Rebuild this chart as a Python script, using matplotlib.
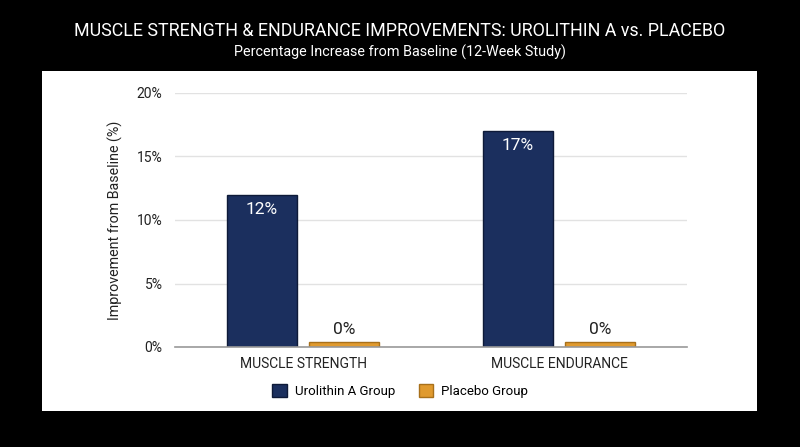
import matplotlib.pyplot as plt
import matplotlib.patches as mpatches
import numpy as np

plt.rcParams['font.family'] = ['Roboto', 'DejaVu Sans']

# data
categories = ["MUSCLE STRENGTH", "MUSCLE ENDURANCE"]
urolithin = [12, 17]
placebo = [0.4, 0.4]
series_names = ["Urolithin A Group", "Placebo Group"]
yticks = [0, 5, 10, 15, 20]

blue = "#1b2f5e"
blue_edge = "#0e1a38"
orange = "#e09a2e"
orange_edge = "#a8701a"

fig = plt.figure(figsize=(8, 4.47), dpi=100)
fig.patch.set_facecolor("black")

# white card behind the chart
card = mpatches.Rectangle((42 / 800, 1 - 411 / 447), (757 - 42) / 800, (411 - 71) / 447,
                          transform=fig.transFigure, facecolor="white", edgecolor="none", zorder=-10)
fig.patches.append(card)

fig.text(0.5, 1 - 31 / 447, "MUSCLE STRENGTH & ENDURANCE IMPROVEMENTS: UROLITHIN A vs. PLACEBO",
         ha="center", va="center", color="white", fontsize=12.9)
fig.text(0.5, 1 - 52 / 447, "Percentage Increase from Baseline (12-Week Study)",
         ha="center", va="center", color="white", fontsize=10.4)

ax = fig.add_axes([175 / 800, 1 - 347 / 447, (687 - 175) / 800, (347 - 93) / 447])
ax.set_facecolor("none")
ax.set_zorder(2)

x = np.arange(len(categories))
w = 0.27
off = 0.16
b1 = ax.bar(x - off, urolithin, w, color=blue, edgecolor=blue_edge, linewidth=1, zorder=3,
            label=series_names[0])
b2 = ax.bar(x + off, placebo, w, color=orange, edgecolor=orange_edge, linewidth=1, zorder=3,
            label=series_names[1])

for rect, v in zip(b1, urolithin):
    ax.text(rect.get_x() + rect.get_width() / 2, v - 0.55, f"{v:.0f}%", ha="center", va="top",
            color="white", fontsize=12.5, zorder=4)
for rect, v in zip(b2, placebo):
    ax.text(rect.get_x() + rect.get_width() / 2, v + 0.35, f"{v:.0f}%", ha="center", va="bottom",
            color="#222222", fontsize=12.5, zorder=4)

ax.set_xlim(-0.5, 1.5)
ax.set_ylim(0, 20)
ax.set_yticks(yticks)
ax.set_yticklabels([f"{t}%" for t in yticks])
ax.set_xticks(x)
ax.set_xticklabels(categories)
ax.tick_params(axis="both", length=0, labelsize=10, colors="#222222")
ax.tick_params(axis="y", pad=9)
ax.tick_params(axis="x", pad=7)
ax.grid(axis="y", color="#e2e2e2", linewidth=1, zorder=0)
for s in ["top", "right", "left"]:
    ax.spines[s].set_visible(False)
ax.spines["bottom"].set_color("#999999")
ax.spines["bottom"].set_linewidth(1.2)
ax.spines["bottom"].set_zorder(5)
ax.set_ylabel("Improvement from Baseline (%)", fontsize=10.3, color="#222222", labelpad=10)

fig.legend(handles=[b1, b2], labels=series_names, loc="center", bbox_to_anchor=(0.5, 1 - 391 / 447),
           ncol=2, frameon=False, fontsize=9.5, handlelength=1.1, handleheight=1.1,
           columnspacing=1.8, handletextpad=0.6)

fig.savefig("out.png", dpi=100, facecolor=fig.get_facecolor())
